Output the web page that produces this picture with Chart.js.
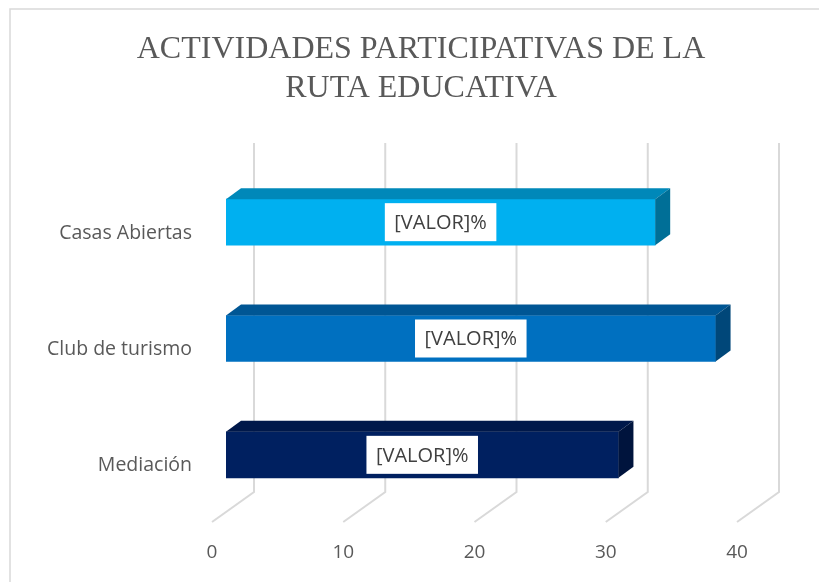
<!DOCTYPE html>
<html>
<head>
<meta charset="utf-8">
<script src="https://cdn.jsdelivr.net/npm/chart.js@4"></script>
<style>
  html, body { margin: 0; padding: 0; background: #fff; }
  #wrap { width: 819px; height: 582px; position: relative; }
</style>
</head>
<body>
<div id="wrap"><canvas id="myChart" width="819" height="582"></canvas></div>
<script>
// data
var categories = ["Casas Abiertas", "Club de turismo", "Mediación"];
var values = [32.7, 37.3, 29.9];
var labelText = ["[VALOR]%", "[VALOR]%", "[VALOR]%"];
var frontColors = ["#00B0F0", "#0070C0", "#002060"];
var topColors = ["#0088B9", "#005694", "#00184A"];
var sideColors = ["#006F97", "#004779", "#00143D"];
var axisTicks = [0, 10, 20, 30, 40];
var titleLines = ["ACTIVIDADES PARTICIPATIVAS DE LA", "RUTA EDUCATIVA"];

var DX = 15, DY = -11; // bar depth

// background, border, title and the 3d grid walls
var wallPlugin = {
  id: "walls",
  beforeDraw: function(chart) {
    var ctx = chart.ctx;
    ctx.save();
    ctx.fillStyle = "#fff";
    ctx.fillRect(0, 0, chart.width, chart.height);
    ctx.strokeStyle = "#d9d9d9";
    ctx.lineWidth = 1.5;
    ctx.beginPath();
    ctx.moveTo(10, chart.height);
    ctx.lineTo(10, 9);
    ctx.lineTo(chart.width, 9);
    ctx.stroke();
    // title
    ctx.fillStyle = "#595959";
    ctx.font = "32px 'Liberation Serif'";
    ctx.textAlign = "center";
    ctx.textBaseline = "middle";
    ctx.fillText(titleLines[0], 421, 50);
    ctx.fillText(titleLines[1], 421, 89);
    ctx.restore();
  },
  beforeDatasetsDraw: function(chart) {
    var ctx = chart.ctx, xs = chart.scales.x, area = chart.chartArea;
    ctx.save();
    ctx.strokeStyle = "#d9d9d9";
    ctx.lineWidth = 2;
    axisTicks.forEach(function(v) {
      var xb = xs.getPixelForValue(v);
      ctx.beginPath();
      ctx.moveTo(xb + 28, area.top - 21);
      ctx.lineTo(xb + 28, area.bottom - 21);
      ctx.lineTo(xb - 14, area.bottom + 9);
      ctx.stroke();
    });
    ctx.restore();
  },
  afterDatasetsDraw: function(chart) {
    var ctx = chart.ctx;
    var meta = chart.getDatasetMeta(0);
    ctx.save();
    meta.data.forEach(function(bar, i) {
      var p = bar.getProps(["x", "y", "base", "height"], true);
      var top = p.y - p.height / 2, bottom = p.y + p.height / 2;
      // top face
      ctx.fillStyle = topColors[i];
      ctx.beginPath();
      ctx.moveTo(p.base, top);
      ctx.lineTo(p.x, top);
      ctx.lineTo(p.x + DX, top + DY);
      ctx.lineTo(p.base + DX, top + DY);
      ctx.closePath();
      ctx.fill();
      // side face
      ctx.fillStyle = sideColors[i];
      ctx.beginPath();
      ctx.moveTo(p.x, top);
      ctx.lineTo(p.x + DX, top + DY);
      ctx.lineTo(p.x + DX, bottom + DY);
      ctx.lineTo(p.x, bottom);
      ctx.closePath();
      ctx.fill();
      // data label box
      ctx.font = "20px 'Open Sans'";
      var w = ctx.measureText(labelText[i]).width + 19;
      var h = 38;
      var cx = (p.x + p.base) / 2;
      ctx.fillStyle = "#fff";
      ctx.fillRect(cx - w / 2, p.y - h / 2, w, h);
      ctx.fillStyle = "#404040";
      ctx.textAlign = "center";
      ctx.textBaseline = "middle";
      ctx.fillText(labelText[i], cx, p.y + 1);
    });
    ctx.restore();
  }
};

new Chart("myChart", {
  type: "bar",
  data: {
    labels: categories,
    datasets: [{
      data: values,
      backgroundColor: frontColors,
      borderWidth: 0,
      barThickness: 46
    }]
  },
  options: {
    indexAxis: "y",
    responsive: false,
    animation: false,
    layout: { padding: { left: 0, right: 68, top: 164, bottom: 0 } },
    plugins: {
      legend: { display: false },
      tooltip: { enabled: false },
      title: { display: false }
    },
    scales: {
      x: {
        min: 0,
        max: 40,
        afterFit: function(s) { s.height = 69; },
        afterBuildTicks: function(s) { s.ticks = axisTicks.map(function(v) { return { value: v }; }); },
        grid: { display: false, drawTicks: false },
        border: { display: false },
        ticks: { color: "#595959", font: { family: "'Open Sans'", size: 19 }, padding: 28, labelOffset: -14 }
      },
      y: {
        afterFit: function(s) { s.width = 226; },
        grid: { display: false, drawTicks: false },
        border: { display: false },
        ticks: { color: "#595959", font: { family: "'Open Sans'", size: 19.5 }, padding: 34, labelOffset: 11 }
      }
    }
  },
  plugins: [wallPlugin]
});
</script>
</body>
</html>
